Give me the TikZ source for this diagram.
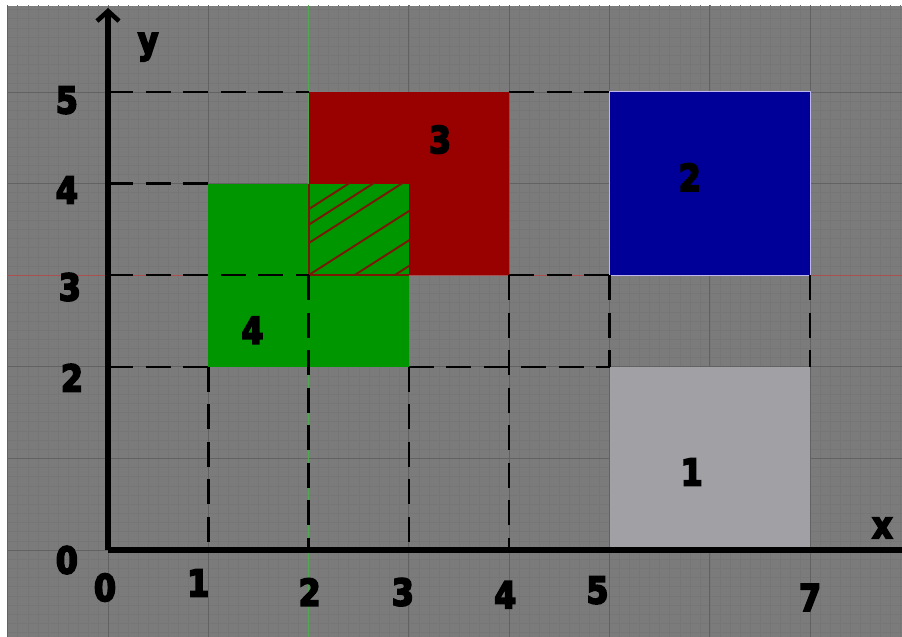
\documentclass[tikz,border=0pt]{standalone}
\usepackage{fontspec}
\newfontfamily\lblfont[FakeStretch=0.85, BoldFeatures={FakeBold=5}]{DejaVu Sans}
\usetikzlibrary{arrows.meta}

\definecolor{bggray}{RGB}{123,123,123}
\definecolor{finegray}{RGB}{118,118,118}
\definecolor{majorgray}{RGB}{98,98,98}
\definecolor{boxred}{RGB}{153,0,0}
\definecolor{boxgreen}{RGB}{0,150,0}
\definecolor{boxblue}{RGB}{0,0,153}
\definecolor{boxlight}{RGB}{160,160,165}
\definecolor{lavender}{RGB}{190,180,240}
\definecolor{hatchred}{RGB}{120,25,5}

\tikzset{
  lbl/.style={font=\lblfont\bfseries\fontsize{21}{21}\selectfont, text=black, inner sep=0pt},
  dashline/.style={black, line width=1.4pt, dash pattern=on 0.5cm off 0.25cm},
  axisline/.style={black, line width=3.4pt},
  hatchline/.style={hatchred, line width=1.1pt}
}

\begin{document}
\begin{tikzpicture}[x=2.006cm, y=1.832cm]
    \useasboundingbox (-1.077,-0.95) rectangle (7.916,6.004);
    \fill[white] (-1.077,-0.95) rectangle (7.916,6.004);
    \fill[bggray] (-1.007,-0.95) rectangle (7.916,5.939);

    % grid
    \begin{scope}
      \clip (-1.007,-0.95) rectangle (7.916,5.939);
      \draw[finegray, line width=0.3pt, step=0.1] (-1.1,-1) grid (8,6);
      \draw[majorgray, line width=0.5pt, step=1] (-1.1,-1) grid (8,6);
      \draw[red!35!bggray, line width=0.5pt] (-1.1,3) -- (8,3);
      \draw[green!35!bggray, line width=0.5pt] (2,-1) -- (2,6);
    \end{scope}

    % rectangles
    \fill[boxred]   (2,3) rectangle (4,5);
    \fill[boxgreen] (1,2) rectangle (3,4);
    \fill[boxblue, draw=lavender, line width=0.6pt] (5,3) rectangle (7,5);
    \fill[boxlight] (5,0) rectangle (7,2);

    % overlap
    \begin{scope}
      \clip (2,3) rectangle (3,4);
      \foreach \c in {1.0,1.28,1.6,1.95,2.15,2.32}
        \draw[hatchline] (1.9,1.9*0.7+\c) -- (3.1,3.1*0.7+\c);
    \end{scope}
    \draw[hatchline] (2,4) -- (2,3) -- (3,3);

    % dashed guides
    \draw[dashline] (0,5) -- (2,5);
    \draw[dashline] (4,5) -- (5,5);
    \draw[dashline] (0,4) -- (1,4);
    \draw[dashline] (0,3) -- (2,3);
    \draw[dashline] (4,3) -- (5,3);
    \draw[dashline] (0,2) -- (1,2);
    \draw[dashline] (3,2) -- (5,2);
    \draw[dashline] (1,2) -- (1,0);
    \draw[dashline] (2,3) -- (2,0);
    \draw[dashline] (3,2) -- (3,0);
    \draw[dashline] (4,3) -- (4,0);
    \draw[dashline] (5,3) -- (5,2);
    \draw[dashline] (7,3) -- (7,2);

    % axes
    \coordinate (o) at (0,0);
    \coordinate (xend) at (7.93,0);
    \coordinate (yend) at (0,5.917);
    \draw[axisline] (o) -- (xend);
    \draw[axisline, -{Straight Barb[length=2mm, width=4.4mm, line width=2.6pt]}] (o) -- (yend);

    % labels
    \node[lbl] (lab3) at (3.31,4.48) {3};
    \node[lbl] (lab2) at (5.80,4.07) {2};
    \node[lbl] (lab4) at (1.44,2.40) {4};
    \node[lbl] (lab1) at (5.82,0.85) {1};

    \node[lbl] (ylab) at (0.40,5.49) {y};
    \node[lbl] (xlab) at (7.72,0.24) {x};

    \node[lbl] (ty5) at (-0.41,4.91) {5};
    \node[lbl] (ty4) at (-0.41,3.93) {4};
    \node[lbl] (ty3) at (-0.38,2.87) {3};
    \node[lbl] (ty2) at (-0.36,1.88) {2};
    \node[lbl] (ty0) at (-0.41,-0.11) {0};

    \node[lbl] (tx0) at (-0.03,-0.41) {0};
    \node[lbl] (tx1) at (0.90,-0.36) {1};
    \node[lbl] (tx2) at (2.01,-0.46) {2};
    \node[lbl] (tx3) at (2.94,-0.46) {3};
    \node[lbl] (tx4) at (3.96,-0.49) {4};
    \node[lbl] (tx5) at (4.88,-0.44) {5};
    \node[lbl] (tx7) at (7.00,-0.52) {7};
\end{tikzpicture}
\end{document}
